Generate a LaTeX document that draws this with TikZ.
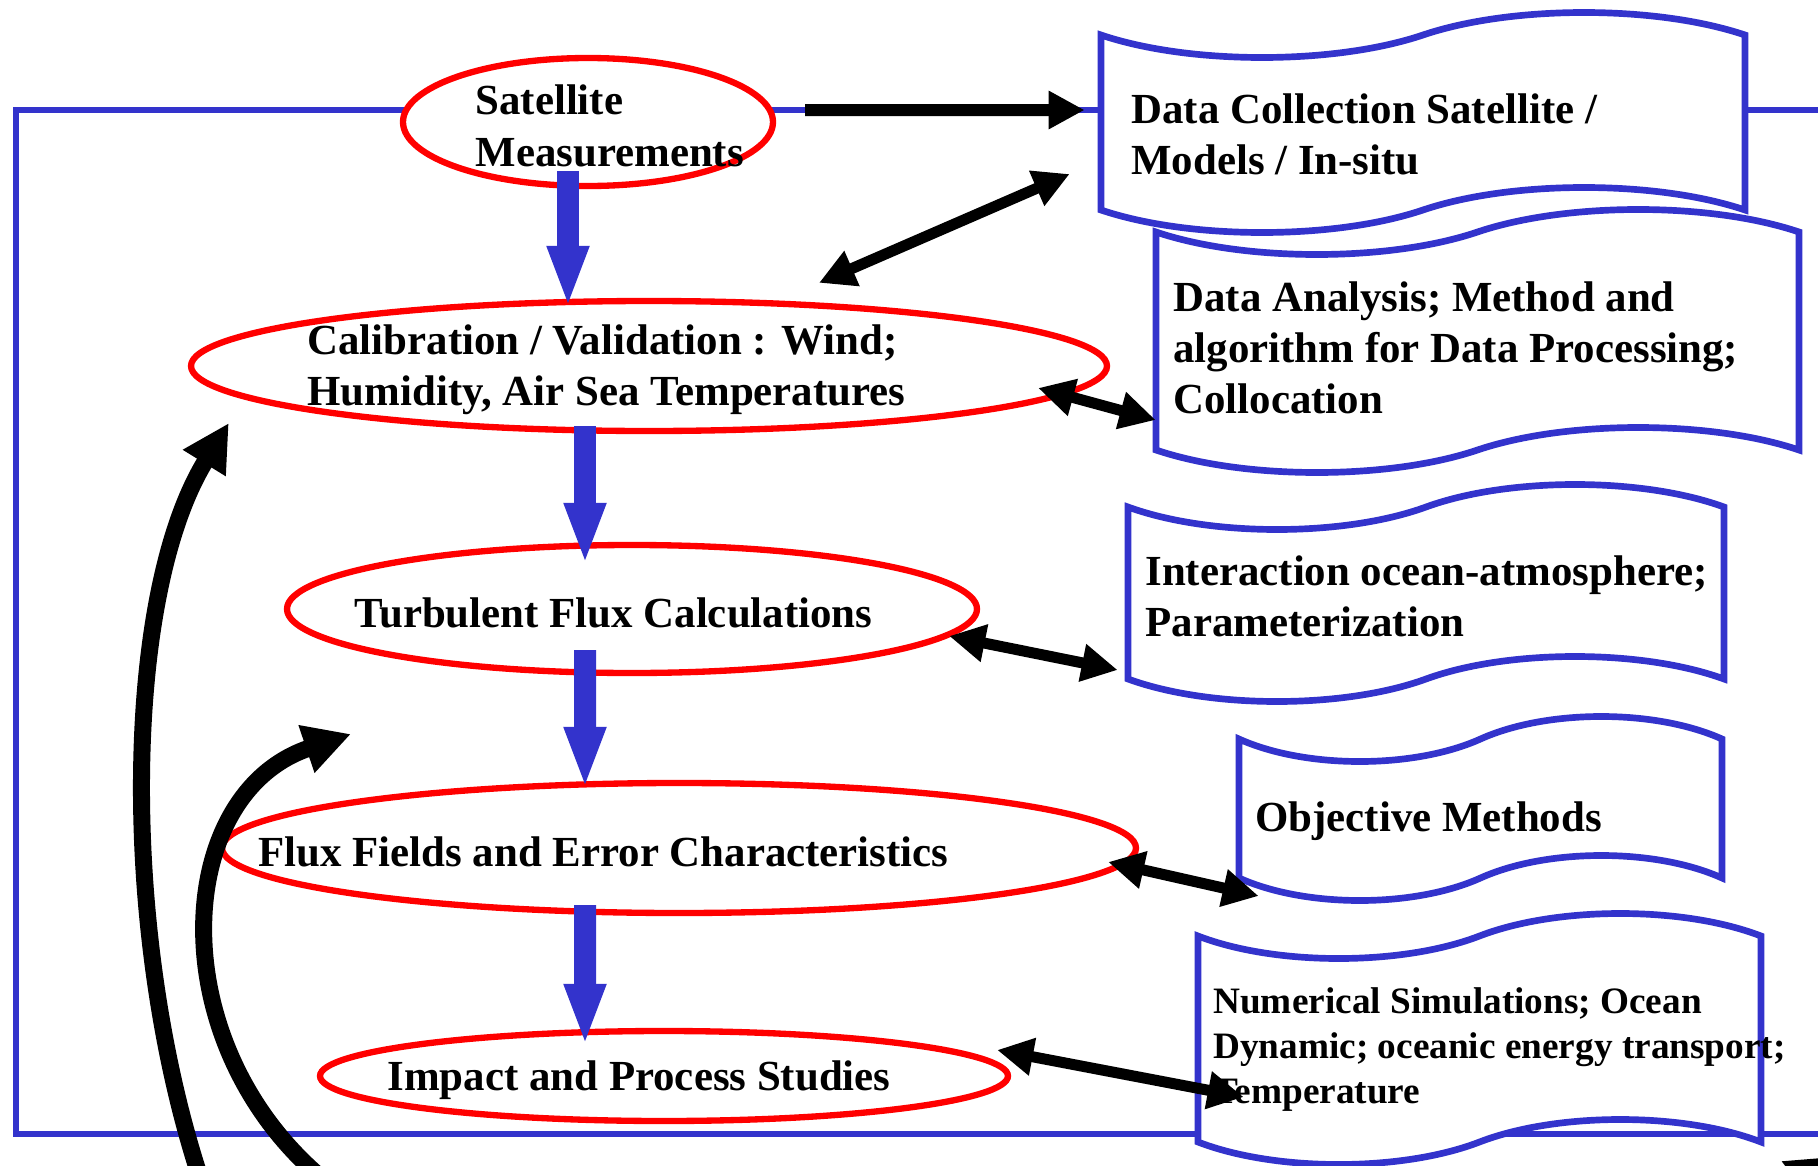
\documentclass[tikz,border=0pt]{standalone}
\usepackage{fontspec}
\setmainfont{Liberation Serif}
\usepackage{tikz}
\usetikzlibrary{shapes.geometric,shapes.symbols,arrows.meta,positioning}

\definecolor{flowblue}{RGB}{51,51,204}
\definecolor{ovalred}{RGB}{255,0,0}

\tikzset{
  frame/.style={draw=flowblue, line width=1.9pt},
  oval/.style={ellipse, draw=ovalred, line width=1.8pt, fill=white, inner sep=0pt},
  tapebox/.style={tape, draw=flowblue, line width=1.9pt, fill=white, inner sep=0pt,
    tape bend height=0.45cm},
  ovaltext/.style={align=left, inner sep=0pt, yshift=-0.04cm},
  boxtext/.style={align=left, inner sep=0pt},
  flow/.style={draw=flowblue, line width=0.22cm, -{Triangle[length=0.62cm,width=0.38cm]}},
  push/.style={line width=0.12cm, -{Triangle[length=0.36cm,width=0.36cm]}},
  link/.style={line width=0.11cm, {Triangle[length=0.36cm,width=0.36cm]}-{Triangle[length=0.36cm,width=0.36cm]}},
  feed/.style={line width=0.17cm, -{Triangle[length=0.47cm,width=0.47cm]}}
}

\begin{document}
\begin{tikzpicture}[font=\bfseries\fontsize{12.2}{14.6}\selectfont]
  \useasboundingbox (0,0) rectangle (18.18,-11.66);
  \clip (0,0) rectangle (18.18,-11.66);

  % frame round the chain
  \draw[frame] (0.16,-1.10) rectangle (18.6,-11.34);

  % chain of steps
  \node[oval, minimum width=3.70cm, minimum height=1.28cm] (sat) at (5.88,-1.22) {};
  \node[oval, minimum width=9.16cm, minimum height=1.30cm] (calib) at (6.49,-3.66) {};
  \node[oval, minimum width=6.90cm, minimum height=1.28cm] (turb) at (6.32,-6.09) {};
  \node[oval, minimum width=9.14cm, minimum height=1.30cm] (flux) at (6.79,-8.48) {};
  \node[oval, minimum width=6.88cm, minimum height=0.90cm] (impact) at (6.64,-10.76) {};

  \node[ovaltext, right=0.75cm of sat.west] (sat-t) {Satellite\\Measurements};
  \node[ovaltext, right=1.19cm of calib.west] (calib-t) {Calibration / Validation : Wind;\\Humidity, Air Sea Temperatures};
  \node[ovaltext, right=0.70cm of turb.west] (turb-t) {Turbulent Flux Calculations};
  \node[ovaltext, right=0.39cm of flux.west] (flux-t) {Flux Fields and Error Characteristics};
  \node[ovaltext, right=0.70cm of impact.west] (impact-t) {Impact and Process Studies};

  % side boxes
  \node[tapebox, minimum width=6.44cm, minimum height=2.20cm] (collect) at (14.23,-1.225) {};
  \node[tapebox, minimum width=6.43cm, minimum height=2.63cm] (analysis) at (14.775,-3.41) {};
  \node[tapebox, minimum width=5.96cm, minimum height=2.17cm] (interact) at (14.26,-5.93) {};
  \node[tapebox, minimum width=4.83cm, minimum height=1.84cm] (objective) at (14.805,-8.085) {};
  \node[tapebox, minimum width=5.63cm, minimum height=2.51cm] (numsim) at (14.795,-10.39) {};

  \node[boxtext, right=0.33cm of collect.west, yshift=-0.12cm] (collect-t) {Data Collection Satellite /\\Models / In-situ};
  \node[boxtext, right=0.20cm of analysis.west, yshift=-0.07cm] (analysis-t) {Data Analysis; Method and\\algorithm for Data Processing;\\Collocation};
  \node[boxtext, right=0.20cm of interact.west, yshift=-0.03cm] (interact-t) {Interaction ocean-atmosphere;\\Parameterization};
  \node[boxtext, right=0.19cm of objective.west, yshift=-0.13cm] (objective-t) {Objective Methods};
  \node[boxtext, right=0.18cm of numsim.west, yshift=-0.11cm,
    font=\bfseries\fontsize{10.6}{12.8}\selectfont] (numsim-t) {Numerical Simulations; Ocean\\Dynamic; oceanic energy transport;\\Temperature};

  % blue flow down the chain
  \draw[flow] ([shift={(-0.20,0.18)}]sat.south) -- ([shift={(-0.81,-0.10)}]calib.north);
  \draw[flow] ([shift={(-0.64,0.08)}]calib.south) -- ([shift={(-0.47,-0.23)}]turb.north);
  \draw[flow] ([shift={(-0.47,0.26)}]turb.south) -- ([shift={(-0.94,-0.09)}]flux.north);
  \draw[flow] ([shift={(-0.94,0.11)}]flux.south) -- ([shift={(-0.79,-0.18)}]impact.north);

  % links to the boxes
  \draw[push] ([shift={(0.29,0.12)}]sat.east) -- ([shift={(-0.13,0.125)}]collect.west);
  \draw[link] ([shift={(1.70,0.15)}]calib.north) -- ([shift={(-0.28,-0.515)}]collect.west);
  \draw[link] ([shift={(-0.72,-0.22)}]calib.east) -- ([shift={(0.03,-0.79)}]analysis.west);
  \draw[link] ([shift={(-0.31,-0.27)}]turb.east) -- ([shift={(-0.07,-0.77)}]interact.west);
  \draw[link] ([shift={(-0.31,-0.14)}]flux.east) -- ([shift={(0.23,-0.875)}]objective.west);
  \draw[link] ([shift={(-0.14,0.26)}]impact.east) -- ([shift={(0.49,-0.58)}]numsim.west);

  % feedback from below
  \coordinate (feed-a) at (2.06,-11.95);
  \coordinate (feed-b) at (3.30,-11.85);
  \coordinate (feed-c) at (18.90,-12.10);
  \coordinate (turn-b) at (3.51,-7.34);
  \coordinate (turn-c) at (17.81,-11.61);
  \draw[feed] (feed-a) .. controls (1.2,-9.5) and (1.2,-6.0) .. ([shift={(0.41,-0.57)}]calib.west);
  \draw[feed] (feed-b) .. controls (1.6,-10.5) and (1.7,-7.95) .. (turn-b);
  \draw[push] (feed-c) -- (turn-c);
\end{tikzpicture}
\end{document}
